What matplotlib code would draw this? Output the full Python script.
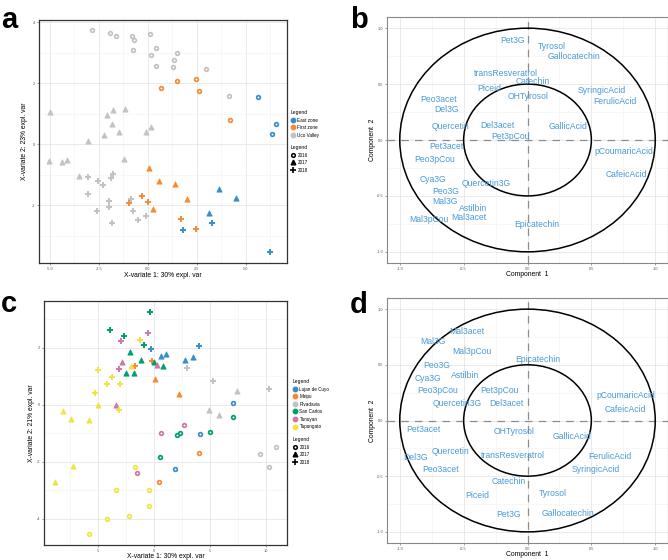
import matplotlib
matplotlib.use("Agg")
import matplotlib.pyplot as plt
from matplotlib.lines import Line2D
from matplotlib.patches import Circle

plt.rcParams["font.family"] = ["Liberation Sans", "DejaVu Sans"]

# mixOmics default palette
ZONE_COLORS_A = {"East zone": "#388ECC", "First zone": "#F68B33", "Uco Valley": "#C2C2C2"}
ZONE_COLORS_C = {"Lujan de Cuyo": "#388ECC", "Maipu": "#F68B33", "Rivadavia": "#C2C2C2",
                 "San Carlos": "#009E73", "Tunuyan": "#CC79A7", "Tupungato": "#F0E442"}
YEARS = ["2016", "2017", "2018"]

# ---- panel a: sample plot, zones ----
a_x = [-2.86, -1.94, -1.60, -0.80, 0.09, -0.68, -0.77, 0.41, 0.14, 1.48, 1.36, 0.43, 1.29, 2.95, 4.16,
       0.68, 1.50, 2.45, 2.59, 4.21,
       5.64, 6.52, 6.34,
       -5.01, -1.75, -1.16, -2.10, -1.81, -1.48, -2.23, -3.07, -0.09, 0.14, -5.03, -4.38, -4.11, -1.23, -3.51,
       0.05, 0.55, 1.40, 2.01, 0.29,
       3.65, 4.50, 3.13,
       -3.07, -1.75, -1.87, -2.52, -2.30, -3.07, -1.96, -1.99, -2.61, -0.85, -0.77, -0.51, -0.09, -1.81,
       -0.95, -0.32, 0.00, 1.67, 2.44,
       3.29, 1.81, 6.22]
a_y = [3.74, 3.65, 3.54, 3.55, 3.61, 3.41, 3.11, 3.15, 2.92, 2.99, 2.77, 2.56, 2.54, 2.46, 1.58,
       1.84, 2.09, 2.14, 1.75, 0.81,
       1.55, 0.68, 0.34,
       1.07, 1.13, 1.16, 0.96, 0.68, 0.40, 0.30, 0.11, 0.40, 0.58, -0.54, -0.58, -0.51, -0.47, -1.05,
       -0.77, -1.21, -1.31, -1.79, -2.13,
       -1.46, -1.78, -2.27,
       -1.09, -0.99, -1.11, -1.22, -1.34, -1.64, -1.87, -2.07, -2.20, -1.80, -2.19, -2.50, -2.36, -2.59,
       -1.93, -1.70, -1.91, -2.44, -2.77,
       -2.60, -2.82, -3.54]
a_zone = (["Uco Valley"] * 15 + ["First zone"] * 5 + ["East zone"] * 3) * 2 + \
         ["Uco Valley"] * 14 + ["First zone"] * 5 + ["East zone"] * 3
a_year = ["2016"] * 23 + ["2017"] * 23 + ["2018"] * 22

# ---- panel c: sample plot, departments ----
c_x = [7.07, 4.10, 1.89, 0.60, 1.05, 2.75, 3.53, -0.24, 4.01,
       4.01, 0.42, 0.06, 2.22, -0.15, -1.71,
       9.46, 10.90, 10.30, 4.97, 5.81, 7.46, 2.96, 5.30, 10.27,
       7.07, 5.00, 2.34, 2.10, 0.54, -2.16, -1.20, 0.03, 0.78, -2.49, -1.83, -0.39, -3.98, -2.66, -0.90,
       2.66, 0.63, -1.53, -2.84, 0.30, -3.38, -0.57, -2.99, -3.11,
       -1.74, -3.38, -0.45, -0.45, -2.22, -4.19, -5.84, -8.17, -7.46, -5.81, -5.00, -7.25, -8.86, -2.07,
       -1.23, -5.03, -3.80, -4.22, -3.08, -5.27, -3.17]
c_y = [0.05, -1.03, -2.25, 1.69, 1.77, 1.56, 1.67, 1.96, 2.05,
       -1.69, -2.72, 0.89, 0.36, 1.52, 1.35,
       -1.74, -1.50, -2.19, -0.19, -0.35, 0.49, 1.27, 0.83, 0.56,
       -0.45, -0.97, -1.01, -1.05, -1.82, 1.83, 1.55, 1.48, 1.34, 1.11, 1.12, 3.23, 2.61, 2.41, 2.08,
       -0.73, -1.01, -2.41, 1.50, 1.38, -0.03, 2.52, 2.22, 1.25,
       -2.19, -2.99, -2.99, -3.57, -3.91, -4.02, -4.54, -0.24, -0.49, -0.55, 0.00, -2.15, -2.72, 1.34,
       2.27, 1.21, 0.98, 0.72, 0.72, 0.41, -0.20]
c_zone = ["Lujan de Cuyo"] * 9 + ["Maipu"] * 6 + ["Rivadavia"] * 9 + ["San Carlos"] * 15 + \
         ["Tunuyan"] * 9 + ["Tupungato"] * 21
c_year = (["2016"] * 3 + ["2017"] * 4 + ["2018"] * 2 +
          ["2016"] * 2 + ["2017"] * 2 + ["2018"] * 2 +
          ["2016"] * 3 + ["2017"] * 3 + ["2018"] * 3 +
          ["2016"] * 5 + ["2017"] * 6 + ["2018"] * 4 +
          ["2016"] * 3 + ["2017"] * 3 + ["2018"] * 3 +
          ["2016"] * 7 + ["2017"] * 7 + ["2018"] * 7)

# ---- panel b: correlation circle ----
b_names = ["Pet3G", "Tyrosol", "Gallocatechin", "transResveratrol", "Catechin", "Piceid", "OHTyrosol",
           "SyringicAcid", "FerulicAcid", "Peo3acet", "Del3G", "Quercetin", "Del3acet", "Pet3pCou",
           "GallicAcid", "Pet3acet", "Peo3pCou", "pCoumaricAcid", "CafeicAcid", "Cya3G", "Quercetin3G",
           "Peo3G", "Mal3G", "Astilbin", "Mal3pCou", "Mal3acet", "Epicatechin"]
b_x = [-0.117, 0.188, 0.365, -0.167, 0.042, -0.300, 0.003, 0.581, 0.685, -0.693, -0.633, -0.599, -0.237,
       -0.135, 0.318, -0.633, -0.724, 0.758, 0.771, -0.740, -0.320, -0.641, -0.643, -0.422, -0.773,
       -0.456, 0.076]
b_y = [0.893, 0.839, 0.744, 0.595, 0.527, 0.461, 0.390, 0.440, 0.342, 0.363, 0.277, 0.125, 0.134,
       0.033, 0.119, -0.060, -0.170, -0.107, -0.310, -0.357, -0.387, -0.461, -0.551, -0.616, -0.714,
       -0.696, -0.753]

# ---- panel d: correlation circle ----
d_names = ["Mal3acet", "Mal3G", "Mal3pCou", "Epicatechin", "Peo3G", "Astilbin", "Cya3G", "Peo3pCou",
           "Pet3pCou", "Quercetin3G", "Del3acet", "pCoumaricAcid", "CafeicAcid", "Pet3acet", "OHTyrosol",
           "GallicAcid", "Quercetin", "transResveratrol", "Del3G", "Peo3acet", "FerulicAcid",
           "SyringicAcid", "Catechin", "Tyrosol", "Piceid", "Pet3G", "Gallocatechin"]
d_x = [-0.474, -0.742, -0.435, 0.078, -0.714, -0.490, -0.781, -0.703, -0.219, -0.552, -0.167, 0.768,
       0.763, -0.813, -0.109, 0.346, -0.604, -0.112, -0.875, -0.682, 0.646, 0.531, -0.148, 0.200,
       -0.391, -0.148, 0.315]
d_y = [0.801, 0.706, 0.617, 0.549, 0.496, 0.401, 0.377, 0.267, 0.270, 0.151, 0.157, 0.223, 0.101,
       -0.083, -0.098, -0.145, -0.279, -0.312, -0.332, -0.439, -0.326, -0.436, -0.549, -0.656, -0.674,
       -0.846, -0.837]

W, H = 668, 560


def fig_rect(left, top, right, bottom):
    return [left / W, 1 - bottom / H, (right - left) / W, (bottom - top) / H]


def style_axes(ax, spine_col="#333333", spine_lw=0.9):
    ax.grid(True, which="major", color="#E6E6E6", lw=0.6)
    ax.grid(True, which="minor", color="#F2F2F2", lw=0.4)
    ax.set_axisbelow(True)
    for s in ax.spines.values():
        s.set_color(spine_col)
        s.set_linewidth(spine_lw)
    ax.tick_params(which="major", labelsize=2.8, labelcolor="#555555", length=1.5, width=0.4,
                   color="#555555", pad=1.2)
    ax.tick_params(which="minor", length=0)


def place_labels(ax, xlab, ylab, xlab_y, ylab_x):
    ax.set_xlabel(xlab, fontsize=4.9)
    ax.set_ylabel(ylab, fontsize=4.9)
    ax.xaxis.set_label_coords(0.5, xlab_y)
    ax.yaxis.set_label_coords(ylab_x, 0.5)
    ax.xaxis.label.set_va("center")
    ax.yaxis.label.set_va("center")


def sample_panel(ax, xs, ys, zones, years, colors, xlim, ylim, xticks, yticks):
    for zone, col in colors.items():
        for yr in YEARS:
            px = [x for x, z, y in zip(xs, zones, years) if z == zone and y == yr]
            py = [v for v, z, y in zip(ys, zones, years) if z == zone and y == yr]
            if yr == "2016":
                ax.scatter(px, py, marker="o", s=7, facecolors="white", edgecolors=col,
                           linewidths=1.25, zorder=3)
            elif yr == "2017":
                ax.scatter(px, py, marker="^", s=14, c=col, edgecolors=col, linewidths=0.6, zorder=3)
            else:
                ax.scatter(px, py, marker="+", s=24, c=col, linewidths=1.4, zorder=3)
    ax.set_xlim(*xlim); ax.set_ylim(*ylim)
    ax.set_xticks(xticks[0]); ax.set_xticklabels(xticks[1])
    ax.set_yticks(yticks[0]); ax.set_yticklabels(yticks[1])
    ax.set_xticks(xticks[2], minor=True); ax.set_yticks(yticks[2], minor=True)
    style_axes(ax)


def add_legends(ax, colors, top_px, left_px, gap_px):
    kw = dict(loc="upper left", frameon=False, bbox_transform=ax.figure.transFigure,
              fontsize=3.3, title_fontsize=3.6, handlelength=1.0, handletextpad=0.4,
              labelspacing=0.55, borderaxespad=0, borderpad=0)
    h1 = [Line2D([], [], ls="none", marker="o", ms=3.2, mfc=c, mec=c) for c in colors.values()]
    l1 = ax.legend(h1, list(colors), title="Legend", bbox_to_anchor=(left_px / W, 1 - top_px / H), **kw)
    l1._legend_box.align = "left"
    ax.add_artist(l1)
    top2 = top_px + gap_px
    h2 = [Line2D([], [], ls="none", marker="o", ms=2.6, mfc="white", mec="black", mew=1.1),
          Line2D([], [], ls="none", marker="^", ms=3.4, mfc="black", mec="black"),
          Line2D([], [], ls="none", marker="+", ms=4.2, mec="black", mew=1.2)]
    l2 = ax.legend(h2, YEARS, title="Legend", bbox_to_anchor=(left_px / W, 1 - top2 / H), **kw)
    l2._legend_box.align = "left"


def var_panel(ax, names, xs, ys):
    ax.add_patch(Circle((0, 0), 1.0, fill=False, ec="black", lw=1.1, zorder=2))
    ax.add_patch(Circle((0, 0), 0.5, fill=False, ec="black", lw=1.1, zorder=2))
    ax.axhline(0, color="#8C8C8C", lw=0.9, ls=(0, (6, 5)), zorder=1)
    ax.axvline(0, color="#8C8C8C", lw=0.9, ls=(0, (6, 5)), zorder=1)
    for n, x, y in zip(names, xs, ys):
        ax.text(x, y, n, fontsize=6.2, color="#4A9AD8", ha="center", va="center", zorder=4)
    ax.set_xlim(-1.1, 1.1); ax.set_ylim(-1.1, 1.1)
    t = [-1.0, -0.5, 0.0, 0.5, 1.0]
    ax.set_xticks(t); ax.set_xticklabels(["-1.0", "-0.5", "0.0", "0.5", "1.0"])
    ax.set_yticks(t); ax.set_yticklabels(["-1.0", "-0.5", "0.0", "0.5", "1.0"])
    ax.set_xticks([-0.75, -0.25, 0.25, 0.75], minor=True)
    ax.set_yticks([-0.75, -0.25, 0.25, 0.75], minor=True)
    style_axes(ax, spine_col="#888888", spine_lw=0.8)


fig = plt.figure(figsize=(6.68, 5.6), dpi=100)

ax_a = fig.add_axes(fig_rect(39, 20, 287, 263))
sample_panel(ax_a, a_x, a_y, a_zone, a_year, ZONE_COLORS_A, (-5.55, 7.1), (-3.9, 4.08),
             ([-5, -2.5, 0, 2.5, 5], ["-5.0", "-2.5", "0.0", "2.5", "5.0"], [-3.75, -1.25, 1.25, 3.75, 6.25]),
             ([-2, 0, 2, 4], ["-2", "0", "2", "4"], [-3, -1, 1, 3]))
place_labels(ax_a, "X-variate 1: 30% expl. var", "X-variate 2: 23% expl. var", -0.05, -0.058)
add_legends(ax_a, ZONE_COLORS_A, 110, 291, 35)

ax_b = fig.add_axes(fig_rect(387, 17, 668, 263))
var_panel(ax_b, b_names, b_x, b_y)
place_labels(ax_b, "Component  1", "Component  2", -0.045, -0.053)

ax_c = fig.add_axes(fig_rect(44, 301, 287, 545))
sample_panel(ax_c, c_x, c_y, c_zone, c_year, ZONE_COLORS_C, (-9.85, 11.92), (-4.92, 3.63),
             ([-5, 0, 5, 10], ["-5", "0", "5", "10"], [-7.5, -2.5, 2.5, 7.5]),
             ([-4, -2, 0, 2], ["-4", "-2", "0", "2"], [-3, -1, 1, 3]))
place_labels(ax_c, "X-variate 1: 30% expl. var", "X-variate 2: 21% expl. var", -0.049, -0.05)
add_legends(ax_c, ZONE_COLORS_C, 379, 293, 58)

ax_d = fig.add_axes(fig_rect(387, 298, 668, 543))
var_panel(ax_d, d_names, d_x, d_y)
place_labels(ax_d, "Component  1", "Component  2", -0.045, -0.053)

for letter, x, y in [("a", 1, 28), ("b", 350, 28), ("c", 1, 312), ("d", 350, 313)]:
    fig.text(x / W, 1 - y / H, letter, fontsize=21, fontweight="bold", va="baseline", ha="left")

fig.savefig("out.png", dpi=100)
